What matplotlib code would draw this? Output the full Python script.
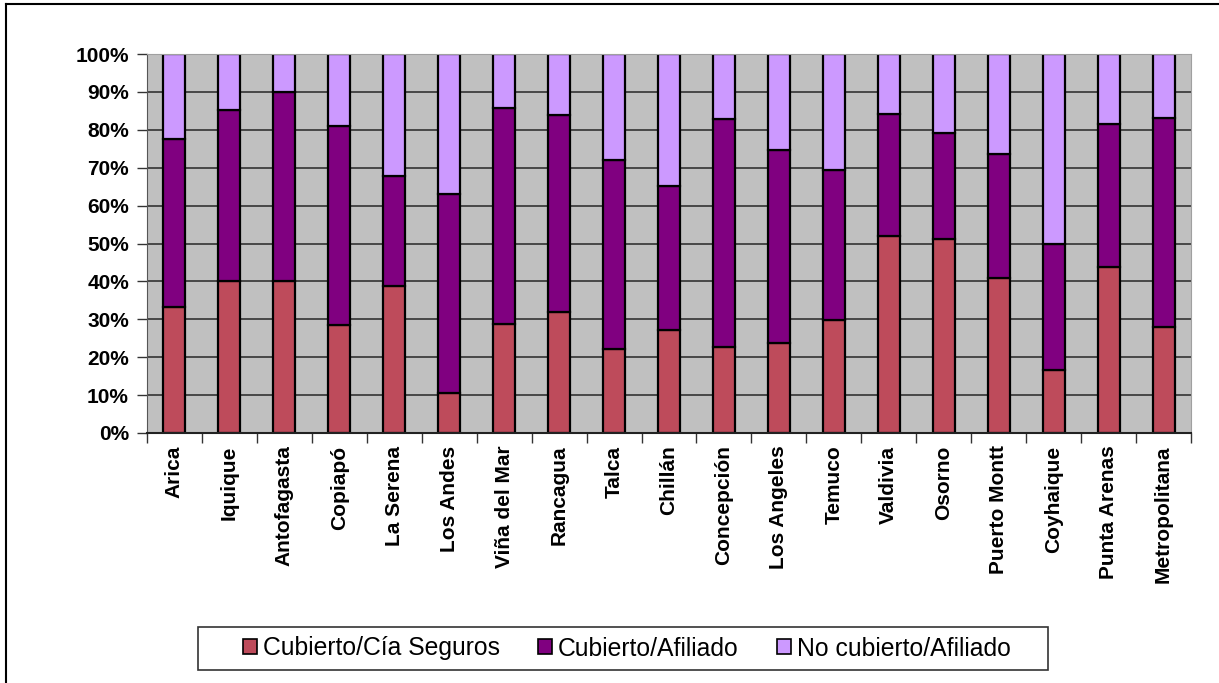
import matplotlib
matplotlib.use("Agg")
import matplotlib.pyplot as plt
from matplotlib.lines import Line2D
from matplotlib.patches import Patch, Rectangle
import numpy as np

plt.rcParams['font.family'] = ['Liberation Sans', 'DejaVu Sans']

ciudades = ["Arica", "Iquique", "Antofagasta", "Copiapó", "La Serena", "Los Andes",
            "Viña del Mar", "Rancagua", "Talca", "Chillán", "Concepción", "Los Angeles",
            "Temuco", "Valdivia", "Osorno", "Puerto Montt", "Coyhaique", "Punta Arenas",
            "Metropolitana"]
# % cubierto por compañía de seguros
cia_seguros = [33.3, 40.0, 40.0, 28.5, 38.7, 10.6, 28.8, 31.8, 22.1, 27.2, 22.8, 23.8,
               29.8, 51.9, 51.2, 40.8, 16.6, 43.8, 28.0]
# % acumulado hasta cubierto/afiliado
acumulado = [77.6, 85.2, 89.9, 81.0, 67.9, 63.1, 85.8, 83.8, 72.0, 65.2, 82.8, 74.7,
             69.3, 84.1, 79.1, 73.7, 49.9, 81.4, 83.1]
afiliado = [a - c for a, c in zip(acumulado, cia_seguros)]
no_cubierto = [100 - a for a in acumulado]

series = ["Cubierto/Cía Seguros", "Cubierto/Afiliado", "No cubierto/Afiliado"]
colores = ["#BE4B5B", "#800080", "#CC99FF"]

fig = plt.figure(figsize=(12.19, 6.83), dpi=100)
ax = fig.add_axes([147/1219, 1-433/683, (1191-147)/1219, (433-54)/683])
ax.set_facecolor("#C0C0C0")
ax.set_axisbelow(True)
ax.grid(axis='y', color="#333333", linewidth=1.2)

x = np.arange(len(ciudades))
ancho = 0.4
fondo = np.zeros(len(ciudades))
for vals, col in zip([cia_seguros, afiliado, no_cubierto], colores):
    ax.bar(x, vals, ancho, bottom=fondo, color=col, edgecolor="black", linewidth=1.6)
    fondo = fondo + np.array(vals)

ax.set_xlim(-0.5, len(ciudades) - 0.5)
ax.set_ylim(0, 100)
ax.set_yticks(np.arange(0, 101, 10))
ax.set_yticklabels([f"{v}%" for v in range(0, 101, 10)], fontsize=15, fontweight='bold')
ax.set_xticks(x)
ax.set_xticklabels(ciudades, rotation=90, fontsize=15, fontweight='bold', va='top')
ax.set_xticks(np.arange(-0.5, len(ciudades), 1), minor=True)
ax.tick_params(axis='x', which='major', length=0, pad=9)
ax.tick_params(axis='x', which='minor', length=7, color="#333333", width=1)
ax.tick_params(axis='y', length=7, color="#333333", width=1, pad=6)

ax.spines['left'].set_color("#555555")
ax.spines['bottom'].set_color("#222222")
ax.spines['bottom'].set_linewidth(1.5)
for s in ['top', 'right']:
    ax.spines[s].set_color("#A0A0A0")

# leyenda (marco dibujado aparte)
handles = [Patch(facecolor=c, edgecolor="black", linewidth=1.2) for c in colores]
fig.legend(handles, series, loc='center', bbox_to_anchor=(627/1219, 1-648.5/683),
           ncol=3, fontsize=17.8, frameon=False,
           handlelength=0.55, handleheight=0.55, handletextpad=0.25,
           columnspacing=1.55, borderpad=0, borderaxespad=0)
fig.add_artist(Rectangle((198/1219, 1-670/683), 850/1219, 43/683, transform=fig.transFigure,
                         facecolor="none", edgecolor="#333333", linewidth=1.2))

# marco del gráfico
fig.add_artist(Line2D([6/1219, 1], [1-4/683, 1-4/683], color="black", linewidth=1.5))
fig.add_artist(Line2D([6/1219, 6/1219], [0, 1-4/683], color="black", linewidth=1.5))

fig.savefig("out.png", dpi=100)
